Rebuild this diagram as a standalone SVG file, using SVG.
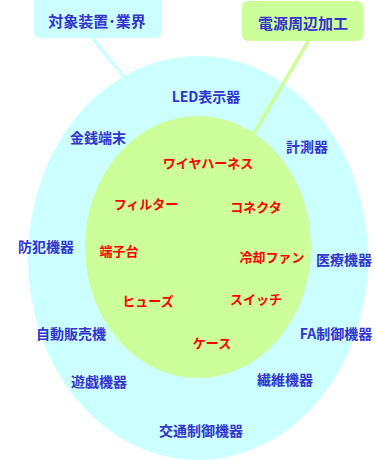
<svg xmlns="http://www.w3.org/2000/svg" width="375" height="460" viewBox="0 0 375 460">
<style>
text{font-family:"Noto Sans CJK JP","Noto Sans",sans-serif;font-weight:bold;text-anchor:middle}
.b{fill:#3333cc;font-size:14px}
.r{fill:#ff0000;font-size:13px}
.t{fill:#3333cc;font-size:15px}
</style>
<rect width="375" height="460" fill="#ffffff"/>
<g id="outer"><ellipse cx="198" cy="258" rx="170" ry="202" fill="#ccffff"/></g>
<g id="connectors">
<line x1="92" y1="38" x2="128" y2="82" stroke="#ccffff" stroke-width="3.5"/>
<line x1="309" y1="40" x2="254" y2="133" stroke="#ccff99" stroke-width="3.5"/>
</g>
<g id="inner"><ellipse cx="198" cy="247" rx="113" ry="131" fill="#ccff99"/></g>
<g id="box-target"><rect x="34" y="-6" width="128" height="44" rx="6" fill="#ccffff"/><text class="t" x="97" y="27">対象装置･業界</text></g>
<g id="box-power"><rect x="242" y="1" width="121" height="40" rx="6" fill="#ccff99"/><text class="t" x="303" y="29">電源周辺加工</text></g>
<g id="industries">
<text class="b" x="206" y="102">LED表示器</text>
<text class="b" x="98" y="143">金銭端末</text>
<text class="b" x="307" y="152">計測器</text>
<text class="b" x="46" y="252">防犯機器</text>
<text class="b" x="344" y="265">医療機器</text>
<text class="b" x="71" y="339">自動販売機</text>
<text class="b" x="336" y="339">FA制御機器</text>
<text class="b" x="99" y="387">遊戯機器</text>
<text class="b" x="285" y="385">繊維機器</text>
<text class="b" x="201" y="436">交通制御機器</text>
</g>
<g id="products">
<text class="r" x="208" y="168">ワイヤハーネス</text>
<text class="r" x="146" y="209">フィルター</text>
<text class="r" x="256" y="212">コネクタ</text>
<text class="r" x="119" y="256">端子台</text>
<text class="r" x="272" y="262">冷却ファン</text>
<text class="r" x="148" y="306">ヒューズ</text>
<text class="r" x="256" y="304">スイッチ</text>
<text class="r" x="212" y="348">ケース</text>
</g>
</svg>
